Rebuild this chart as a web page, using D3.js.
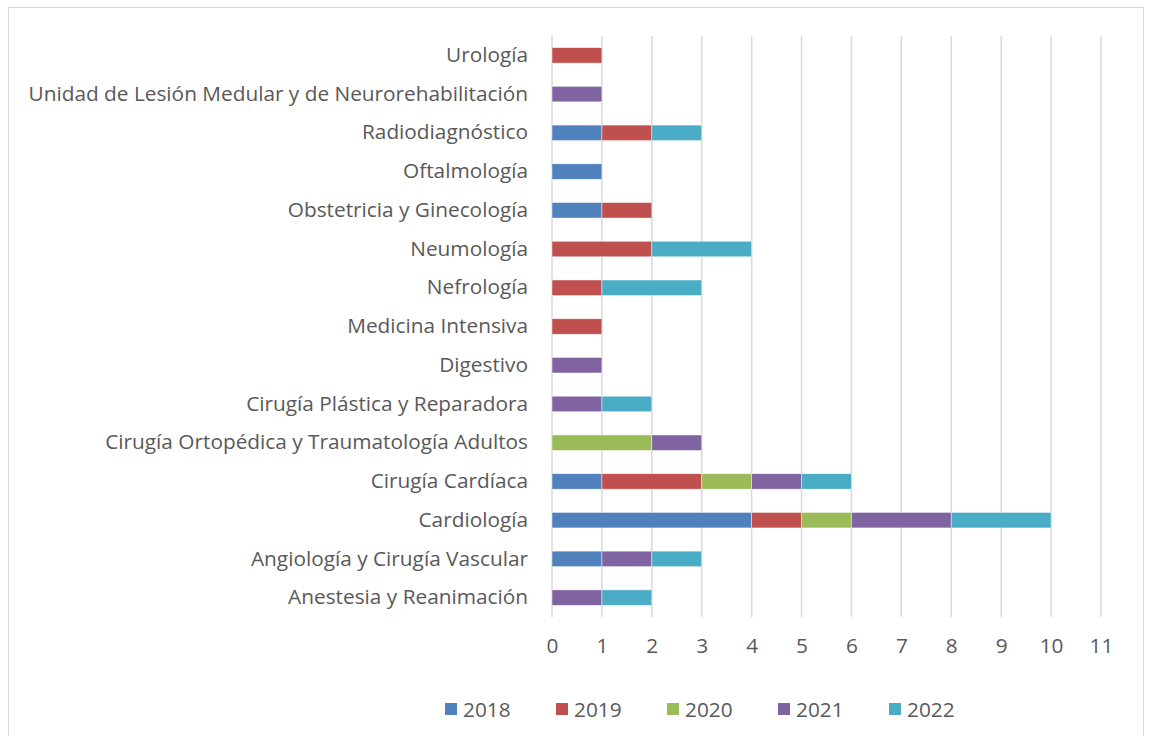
<!DOCTYPE html>
<html>
<head>
<meta charset="utf-8">
<script src="https://cdn.jsdelivr.net/npm/d3@7"></script>
<style>
  body { margin: 0; background: #fff; }
  text { font-family: "Open Sans", Lato, sans-serif; fill: #595959; }
</style>
</head>
<body>
<div id="chart"></div>
<script>
// ---------- DATA ----------
const categories = [
  "Urología",
  "Unidad de Lesión Medular y de Neurorehabilitación",
  "Radiodiagnóstico",
  "Oftalmología",
  "Obstetricia y Ginecología",
  "Neumología",
  "Nefrología",
  "Medicina Intensiva",
  "Digestivo",
  "Cirugía Plástica y Reparadora",
  "Cirugía Ortopédica y Traumatología Adultos",
  "Cirugía Cardíaca",
  "Cardiología",
  "Angiología y Cirugía Vascular",
  "Anestesia y Reanimación"
];
const years = ["2018", "2019", "2020", "2021", "2022"];
const colors = ["#4F81BD", "#C0504D", "#9BBB59", "#8064A2", "#4BACC6"];

// one array per year, same order as categories
const v2018 = [0, 0, 1, 1, 1, 0, 0, 0, 0, 0, 0, 1, 4, 1, 0];
const v2019 = [1, 0, 1, 0, 1, 2, 1, 1, 0, 0, 0, 2, 1, 0, 0];
const v2020 = [0, 0, 0, 0, 0, 0, 0, 0, 0, 0, 2, 1, 1, 0, 0];
const v2021 = [0, 1, 0, 0, 0, 0, 0, 0, 1, 1, 1, 1, 2, 1, 1];
const v2022 = [0, 0, 1, 0, 0, 2, 2, 0, 0, 1, 0, 1, 2, 1, 1];
const xTicks = [0, 1, 2, 3, 4, 5, 6, 7, 8, 9, 10, 11];

// ---------- LAYOUT ----------
const W = 1149, H = 736;
const plot = { left: 552, right: 1101, top: 36, bottom: 617 };
const FONT = "20.8px";

const rows = categories.map((c, i) => ({
  cat: c,
  "2018": v2018[i], "2019": v2019[i], "2020": v2020[i], "2021": v2021[i], "2022": v2022[i]
}));
const series = d3.stack().keys(years)(rows);

const x = d3.scaleLinear().domain([0, 11]).range([plot.left, plot.right]);
const y = d3.scaleBand().domain(categories).range([plot.top, plot.bottom]).paddingInner(0.6).paddingOuter(0.3);

const svg = d3.select("#chart").append("svg")
  .attr("width", W).attr("height", H);

// chart border
svg.append("rect")
  .attr("x", 8.5).attr("y", 7.5)
  .attr("width", 1135).attr("height", 740)
  .attr("fill", "#fff").attr("stroke", "#d9d9d9").attr("stroke-width", 1);

// ---------- GRID ----------
svg.append("g")
  .selectAll("line")
  .data(xTicks)
  .enter().append("line")
  .attr("x1", d => x(d)).attr("x2", d => x(d))
  .attr("y1", plot.top).attr("y2", plot.bottom)
  .attr("stroke", "#d9d9d9").attr("stroke-width", 1.5);

// ---------- BARS ----------
svg.append("g")
  .selectAll("g")
  .data(series)
  .enter().append("g")
  .attr("fill", (d, i) => colors[i])
  .selectAll("rect")
  .data(d => d.filter(s => s[1] - s[0] > 0))
  .enter().append("rect")
  .attr("x", d => x(d[0]))
  .attr("width", d => x(d[1]) - x(d[0]))
  .attr("y", d => y(d.data.cat))
  .attr("height", y.bandwidth())
  .attr("stroke", "rgba(255,255,255,0.6)")
  .attr("stroke-width", 0.75);

// ---------- AXES ----------
const yAxis = svg.append("g")
  .attr("transform", `translate(${plot.left - 24},0)`)
  .call(d3.axisLeft(y).tickSize(0).tickPadding(0));
yAxis.select(".domain").remove();
yAxis.selectAll("text").style("font-size", FONT).attr("fill", "#595959");

const xAxis = svg.append("g")
  .attr("transform", `translate(0,${plot.bottom + 20})`)
  .call(d3.axisBottom(x).tickValues(xTicks).tickSize(0).tickPadding(0));
xAxis.select(".domain").remove();
xAxis.selectAll("text").style("font-size", FONT).attr("fill", "#595959").attr("dy", "0.75em");

// ---------- LEGEND ----------
const legend = svg.append("g")
  .selectAll("g")
  .data(years)
  .enter().append("g")
  .attr("transform", (d, i) => `translate(${445 + i * 111},703)`);

legend.append("rect")
  .attr("width", 12).attr("height", 12)
  .attr("fill", (d, i) => colors[i]);

legend.append("text")
  .attr("x", 18).attr("y", 6)
  .attr("dy", "0.36em")
  .style("font-size", FONT)
  .text(d => d);
</script>
</body>
</html>
